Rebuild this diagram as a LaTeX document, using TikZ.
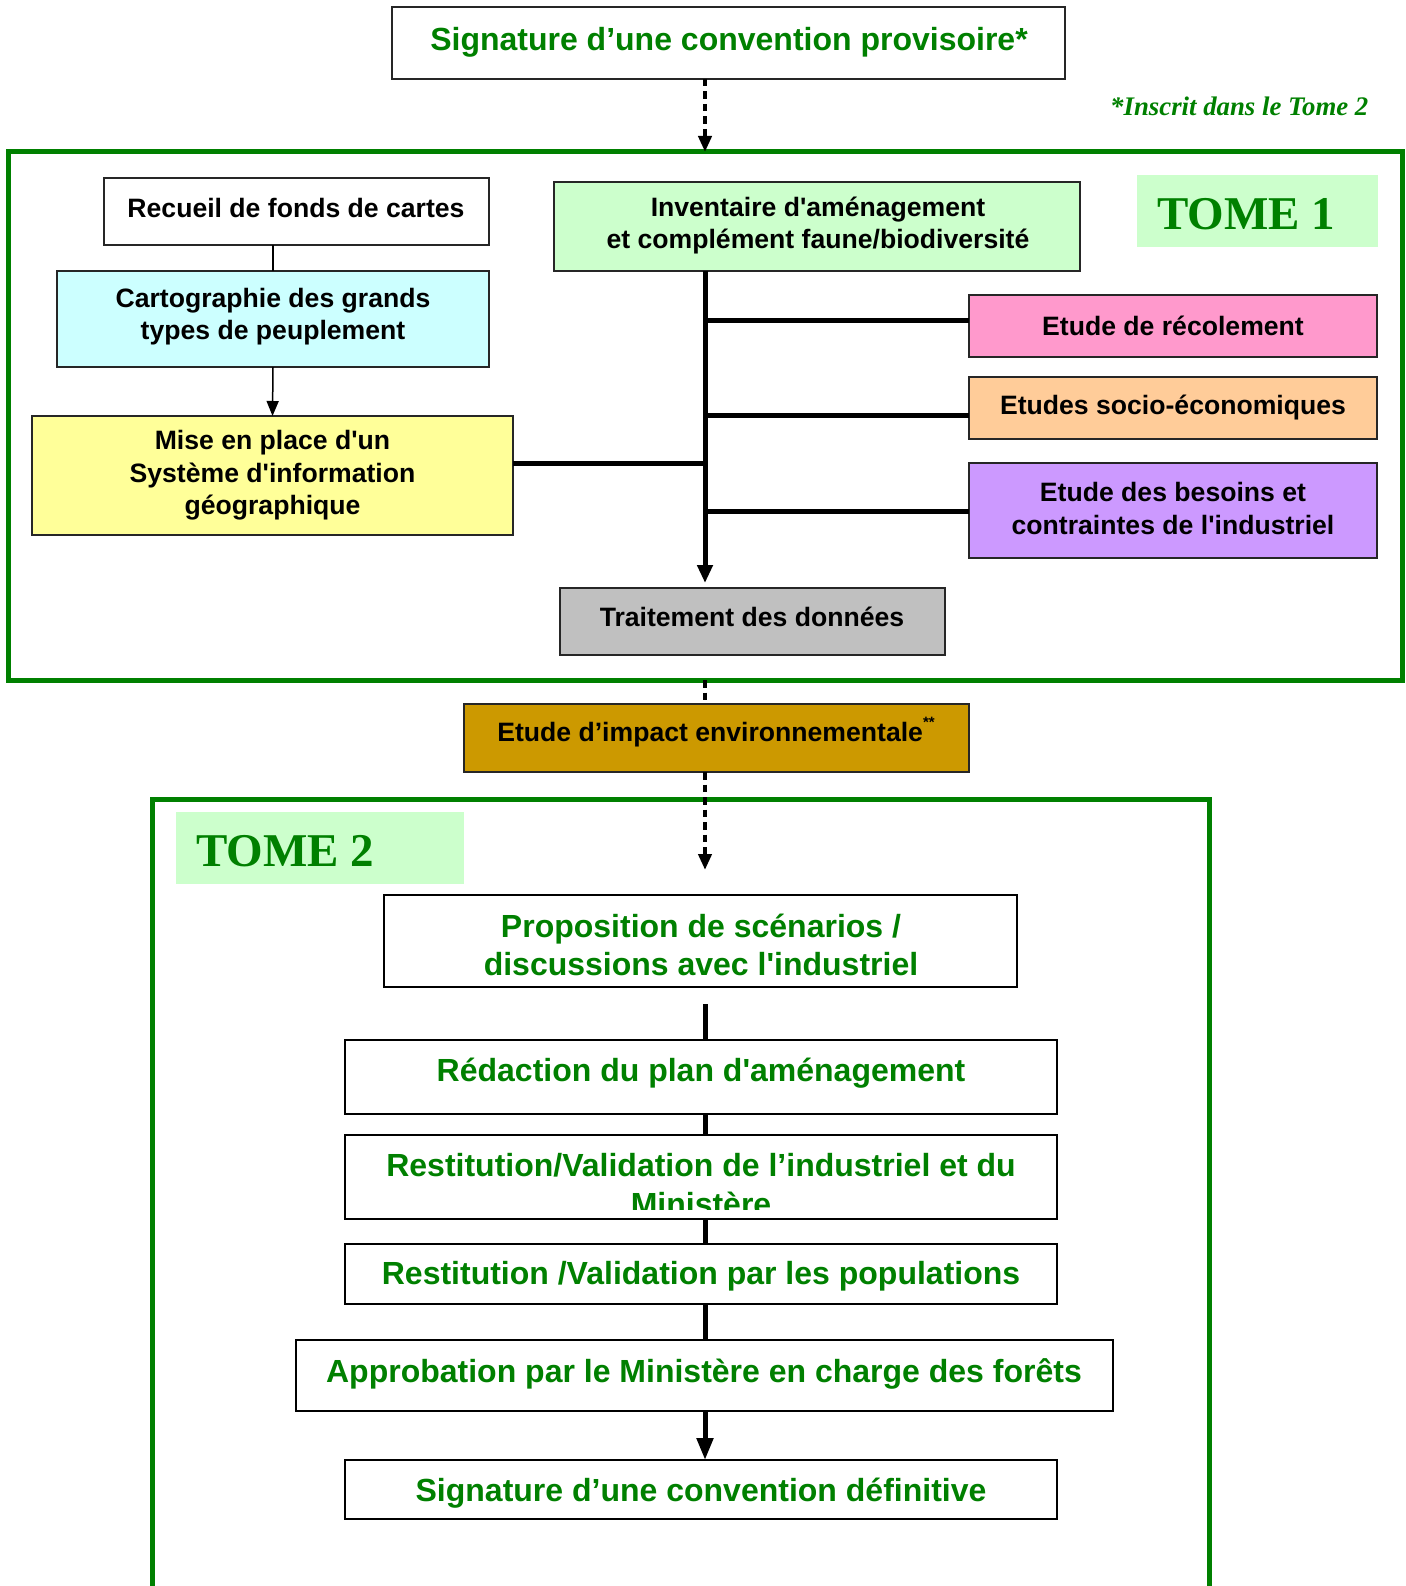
\documentclass[tikz,border=0pt]{standalone}
\usepackage{fontspec}
\setmainfont{Liberation Sans}[Ligatures=TeXOff]
\newfontfamily\tmsfont{Liberation Serif}[Ligatures=TeXOff]
\usetikzlibrary{arrows.meta}
\definecolor{grn}{HTML}{008000}
\definecolor{lgrn}{HTML}{CCFFCC}
\definecolor{cyanbox}{HTML}{CCFFFF}
\definecolor{yelbox}{HTML}{FFFF99}
\definecolor{pinkbox}{HTML}{FF99CC}
\definecolor{orbox}{HTML}{FFCC99}
\definecolor{purbox}{HTML}{CC99FF}
\definecolor{graybox}{HTML}{C0C0C0}
\definecolor{ochrebox}{HTML}{CC9900}
\tikzset{
 boxa/.style={draw=black!85, line width=1.8pt, inner sep=0pt, outer sep=0pt},
 boxb/.style={draw=black, line width=2.4pt, inner sep=0pt, outer sep=0pt, fill=white},
 btxt/.style={font=\bfseries\fontsize{26.6}{32.5}\selectfont, align=center, inner sep=0pt, text=black},
 gtxt/.style={font=\bfseries\fontsize{32}{38}\selectfont, align=center, inner sep=0pt, text=grn},
 tomelab/.style={fill=lgrn, inner sep=0pt, outer sep=0pt},
 tometxt/.style={font=\tmsfont\bfseries\fontsize{47}{47}\selectfont, text=grn, anchor=west, inner sep=0pt},
 frame/.style={draw=grn, line width=5pt},
 heavy/.style={line width=5pt},
 thinl/.style={line width=1.5pt},
 dotl/.style={line width=4.5pt, dash pattern=on 7.5pt off 5pt},
}
\begin{document}
\begin{tikzpicture}[x=1pt,y=-1pt]
\useasboundingbox (0,0) rectangle (1405,1586);
\fill[white] (0,0) rectangle (1405,1586);
\coordinate (sp) at (705,0);

% frames
\draw[frame] (8,152) rectangle (1402,680);
\coordinate (f1top) at (705,152);
\coordinate (f1bot) at (705,680);
\draw[frame] (152,1600) -- (152,799) -- (1209,799) -- (1209,1600);
\coordinate (t2arrow) at (705,870);

% top
\node[boxa, fill=white, minimum width=673pt, minimum height=72pt] (top) at (728.5,43) {};
\node[gtxt] (toptxt) at (729,42) {Signature d’une convention provisoire*};
\node[font=\tmsfont\bfseries\itshape\fontsize{26.8}{26.8}\selectfont, text=grn, anchor=west, inner sep=0pt] (inscrit) at (1110,106) {*Inscrit dans le Tome 2};

% tome 1 boxes
\node[boxa, fill=white, minimum width=385pt, minimum height=67pt] (recueil) at (296.5,211.5) {};
\node[btxt] (recueiltxt) at (296,207.5) {Recueil de fonds de cartes};
\node[boxa, fill=cyanbox, minimum width=432pt, minimum height=96pt] (carto) at (273,319) {};
\node[btxt] (cartotxt) at (273,316.5) {Cartographie des grands\\types de peuplement};
\node[boxa, fill=yelbox, minimum width=481pt, minimum height=119pt] (mise) at (272.5,475.5) {};
\node[btxt] (misetxt) at (272.5,475.5) {Mise en place d'un\\Système d'information\\géographique};
\node[boxa, fill=lgrn, minimum width=526pt, minimum height=89pt] (invent) at (817,226.5) {};
\node[btxt] (inventtxt) at (818,225.5) {Inventaire d'aménagement\\et complément faune/biodiversité};
\node[boxa, fill=pinkbox, minimum width=408pt, minimum height=62pt] (recol) at (1173,326) {};
\node[btxt] (recoltxt) at (1173,325.5) {Etude de récolement};
\node[boxa, fill=orbox, minimum width=408pt, minimum height=62pt] (socio) at (1173,408) {};
\node[btxt] (sociotxt) at (1173,408) {Etudes socio-économiques};
\node[boxa, fill=purbox, minimum width=408pt, minimum height=95pt] (besoins) at (1173,510.5) {};
\node[btxt] (besoinstxt) at (1173,508.5) {Etude des besoins et\\contraintes de l'industriel};
\node[tomelab, minimum width=241pt, minimum height=72pt] (t1lab) at (1257.5,211) {};
\node[tometxt] (t1txt) at (1157,214) {TOME 1};
\node[boxa, fill=graybox, minimum width=385pt, minimum height=67pt] (traitement) at (752.5,621.5) {};
\node[btxt] (traitementtxt) at (752,617) {Traitement des données};

% impact
\node[boxa, fill=ochrebox, minimum width=505pt, minimum height=68pt] (impact) at (716.5,738) {};
\node[btxt] (impacttxt) at (716,732) {Etude d’impact environnementale{\fontsize{15}{15}\selectfont\raisebox{14pt}{**}}};

% tome 2
\node[tomelab, minimum width=288pt, minimum height=72pt] (t2lab) at (320,848) {};
\node[tometxt] (t2txt) at (196,851) {TOME 2};
\node[boxb, minimum width=633pt, minimum height=92pt] (propo) at (700.5,941) {};
\node[gtxt] (propotxt) at (701,944.5) {Proposition de scénarios /\\discussions avec l'industriel};
\node[boxb, minimum width=712pt, minimum height=74pt] (redac) at (701,1077) {};
\node[gtxt] (redactxt) at (701,1073) {Rédaction du plan d'aménagement};
\node[boxb, minimum width=712pt, minimum height=84pt] (restit) at (701,1177) {};
\begin{scope}
\clip (345,1136) rectangle (1057,1209);
\node[gtxt, anchor=base] (restittxta) at (701,1176.5) {Restitution/Validation de l’industriel et du};
\node[gtxt, anchor=base] (restittxtb) at (701,1215) {Ministère};
\end{scope}
\node[boxb, minimum width=712pt, minimum height=60pt] (popul) at (701,1274) {};
\node[gtxt] (popultxt) at (701,1276) {Restitution /Validation par les populations};
\node[boxb, minimum width=817pt, minimum height=71pt] (approb) at (704.5,1375.5) {};
\node[gtxt] (approbtxt) at (704,1374) {Approbation par le Ministère en charge des forêts};
\node[boxb, minimum width=712pt, minimum height=59pt] (defin) at (701,1489.5) {};
\node[gtxt] (defintxt) at (701,1493) {Signature d’une convention définitive};

% connectors
\draw[dotl,-{Triangle[length=16pt,width=13pt]}] (top.south -| sp) -- (f1top);
\draw[thinl] (carto.north) -- (carto.north |- recueil.south);
\draw[thinl,-{Triangle[length=15pt,width=12pt]}] (carto.south) -- (mise.north);
\draw[heavy,-{Triangle[length=18pt,width=15pt]}, shorten >=5pt] (invent.south -| sp) -- (traitement.north -| sp);
\coordinate (b1) at (705,320);
\coordinate (b2) at (705,415);
\coordinate (b3) at (705,511);
\coordinate (b4) at (705,463);
\draw[heavy] (b1) -- (b1 -| recol.west);
\draw[heavy] (b2) -- (b2 -| socio.west);
\draw[heavy] (b3) -- (b3 -| besoins.west);
\draw[heavy] (b4) -- (b4 -| mise.east);
\draw[dotl] (f1bot) -- (impact.north -| sp);
\draw[dotl,-{Triangle[length=16pt,width=13pt]}] (impact.south -| sp) -- (t2arrow);
\draw[heavy, shorten <=17pt] (propo.south -| sp) -- (redac.north -| sp);
\draw[heavy] (redac.south -| sp) -- (restit.north -| sp);
\draw[heavy] (restit.south -| sp) -- (popul.north -| sp);
\draw[heavy] (popul.south -| sp) -- (approb.north -| sp);
\draw[heavy,-{Triangle[length=22pt,width=16pt]}] (approb.south -| sp) -- (defin.north -| sp);
\end{tikzpicture}
\end{document}
